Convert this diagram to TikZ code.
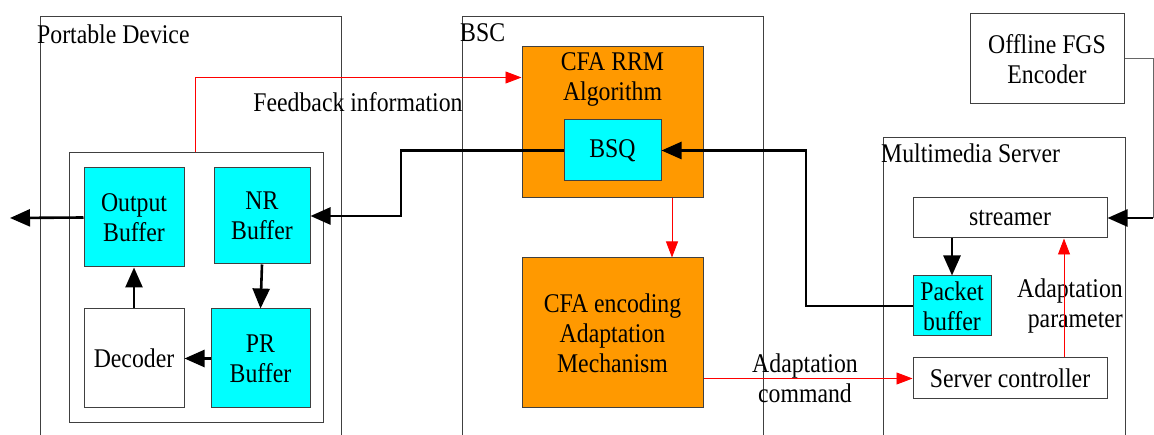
\documentclass[tikz,border=0pt]{standalone}
\usepackage{fontspec}
\setmainfont[FakeStretch=0.88]{Liberation Serif}
\usetikzlibrary{arrows.meta}
\definecolor{cfaorange}{HTML}{FF9900}
\definecolor{bufcyan}{HTML}{00FFFF}
\definecolor{edge}{HTML}{404040}
\begin{document}
\begin{tikzpicture}[x=1pt,y=-1pt,
  every node/.style={font=\fontsize{27}{30}\selectfont, inner sep=0pt, align=center},
  blk/.style={draw=edge, line width=1pt},
  cyanblk/.style={draw=edge, line width=1pt, fill=bufcyan},
  orangeblk/.style={draw=edge, line width=1pt, fill=cfaorange},
  region/.style={draw=edge, line width=1pt},
  thickarrow/.style={line width=2.6pt, -{Triangle[length=20pt,width=17pt]}},
  redarrow/.style={draw=red, line width=0.9pt, -{Triangle[length=16pt,width=12pt]}},
  lbl/.style={}
]
\useasboundingbox (0,0) rectangle (1154,435);

% open-bottom regions
\draw[region] (40,435) -- (40,17) -- (341,17) -- (341,435);
\draw[region] (462,435) -- (462,17) -- (763,17) -- (763,435);
\draw[region] (883,435) -- (883,138) -- (1125,138) -- (1125,435);
\node[lbl, anchor=west] (pdlabel) at (37,34) {Portable Device};
\node[lbl, anchor=west] (bsclabel) at (460,33) {BSC};
\node[lbl, anchor=west] (mslabel) at (881,153) {Multimedia Server};

% portable device
\node[region, minimum width=254pt, minimum height=270pt] (inner) at (196,288) {};
\node[cyanblk, minimum width=100pt, minimum height=99pt] (ob) at (134,217.5) {Output\\Buffer};
\node[cyanblk, minimum width=96pt, minimum height=96pt] (nr) at (262,216) {NR\\Buffer};
\node[blk, minimum width=100pt, minimum height=99pt, fill=white] (dec) at (134,358.5) {Decoder};
\node[cyanblk, minimum width=99pt, minimum height=99pt] (pr) at (260.5,358.5) {PR\\Buffer};
\coordinate (out) at (10,218);

% BSC
\node[orangeblk, minimum width=181pt, minimum height=151pt] (rrm) at (612.5,122.5) {};
\node[lbl] (rrmtext) at (612.5,79) {CFA RRM\\Algorithm};
\node[cyanblk, minimum width=97pt, minimum height=61pt] (bsq) at (612.5,150.5) {BSQ};
\node[orangeblk, minimum width=181pt, minimum height=150pt] (cfaenc) at (612.5,333) {CFA encoding\\Adaptation\\Mechanism};

% server
\node[blk, minimum width=154pt, minimum height=90pt] (fgs) at (1047,59) {Offline FGS\\Encoder};
\node[blk, minimum width=194pt, minimum height=40pt] (str) at (1010,218) {streamer};
\node[cyanblk, minimum width=78pt, minimum height=60pt] (pb) at (952,306) {Packet\\buffer};
\node[blk, minimum width=194pt, minimum height=41pt] (sc) at (1010,378.5) {Server controller};
\coordinate (fgscorner) at (1153,218);

% labels
\node[lbl] (fbtext) at (358,102) {Feedback information};
\node[lbl] (actext) at (805,378) {Adaptation\\command};
\node[lbl, align=right, anchor=east] (aptext) at (1123,306) {Adaptation\\parameter};

% black connectors
\draw[thickarrow] (ob.west) -- (out);
\draw[thickarrow] (bsq.west) -| (401,216) -- (nr.east);
\draw[thickarrow] (nr.south) -- (pr.north);
\draw[thickarrow] (pr.west) -- (dec.east);
\draw[thickarrow] (dec.north) -- (ob.south);
\draw[thickarrow] (pb.west) -| (806,150.5) -- (bsq.east);
\draw[thickarrow] (pb.north |- str.south) -- (pb.north);
\draw[draw=edge!80, line width=1pt] (fgs.east) -| (fgscorner);
\draw[thickarrow] (fgscorner) -- (str.east);

% red connectors
\draw[redarrow] ([xshift=127pt]inner.north west) |- ([yshift=-31pt]rrm.north west);
\draw[redarrow] ([xshift=59.5pt]rrm.south) -- ([xshift=59.5pt]cfaenc.north);
\draw[redarrow] (sc.west -| cfaenc.east) -- (sc.west);
\draw[redarrow] ([xshift=54pt]sc.north) -- ([xshift=54pt]str.south);
\end{tikzpicture}
\end{document}
